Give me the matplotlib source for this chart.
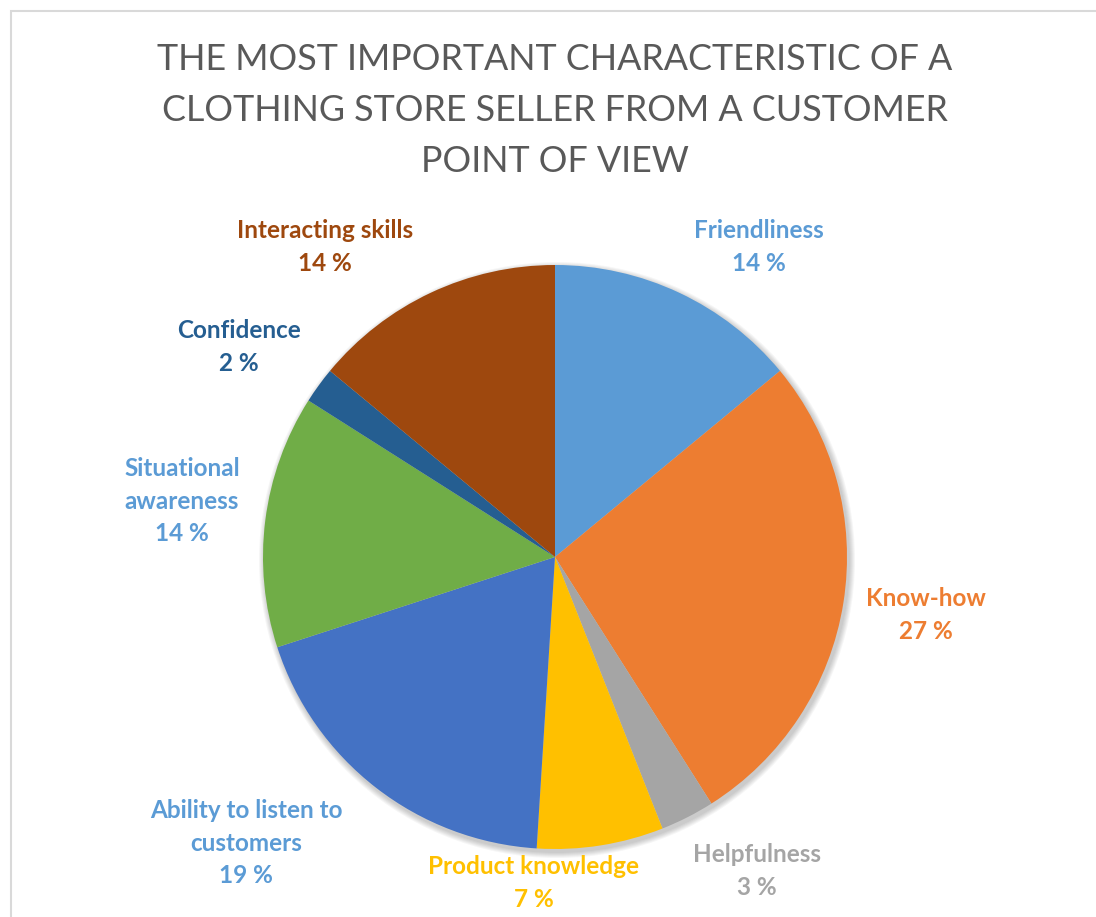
import matplotlib
matplotlib.use("Agg")
import matplotlib.pyplot as plt
from matplotlib.patches import Circle, Rectangle

plt.rcParams['font.family'] = ['Lato', 'DejaVu Sans']

title_lines = ["THE MOST IMPORTANT CHARACTERISTIC OF A",
               "CLOTHING STORE SELLER FROM A CUSTOMER",
               "POINT OF VIEW"]
categories = ["Friendliness", "Know-how", "Helpfulness", "Product knowledge",
              "Ability to listen to\ncustomers", "Situational\nawareness",
              "Confidence", "Interacting skills"]
values = [14, 27, 3, 7, 19, 14, 2, 14]
slice_colors = ["#5B9BD5", "#ED7D31", "#A5A5A5", "#FFC000",
                "#4472C4", "#70AD47", "#255E91", "#9E480E"]
label_colors = ["#5B9BD5", "#ED7D31", "#A5A5A5", "#FFC000",
                "#5B9BD5", "#5B9BD5", "#255E91", "#9E480E"]
# label anchor (pixel x, pixel y of first line from top)
label_pos = [(759, 231), (926, 599), (757, 855), (534, 867),
             (246, 811), (182, 469), (239, 331), (325, 231)]

W, H = 1096, 917
fig = plt.figure(figsize=(W / 100, H / 100), dpi=100)
ax = fig.add_axes([0, 0, 1, 1])

# chart frame
ax.add_patch(Rectangle((10.5, -20), W + 40, H - 10.5 + 20, fill=False,
                       edgecolor="#D9D9D9", linewidth=1.5))

cx, cy, r = 555, H - 557, 292

# soft shadow under the pie
for i in range(6):
    ax.add_patch(Circle((cx + 2, cy - 3), r + 1 + i, color="#000000",
                        alpha=0.035, linewidth=0, zorder=1))

ax.pie(values, colors=slice_colors, startangle=90, counterclock=False,
       center=(cx, cy), radius=r, frame=True,
       wedgeprops=dict(linewidth=0, zorder=2))
ax.set_xlim(0, W)
ax.set_ylim(0, H)
ax.set_aspect('equal')
ax.axis('off')

for k, t in enumerate(title_lines):
    ax.text(W / 2 + 7, H - (59 + k * 51.5), t, ha='center', va='center',
            fontsize=25.8, color="#595959")

line_h = 32.3
for name, v, c, (x, y) in zip(categories, values, label_colors, label_pos):
    lines = name.split("\n") + [f"{v} %"]
    for k, t in enumerate(lines):
        ax.text(x, H - (y + k * line_h), t, ha='center', va='center',
                fontsize=17.5, fontweight='bold', color=c)

fig.savefig("out.png", dpi=100)
